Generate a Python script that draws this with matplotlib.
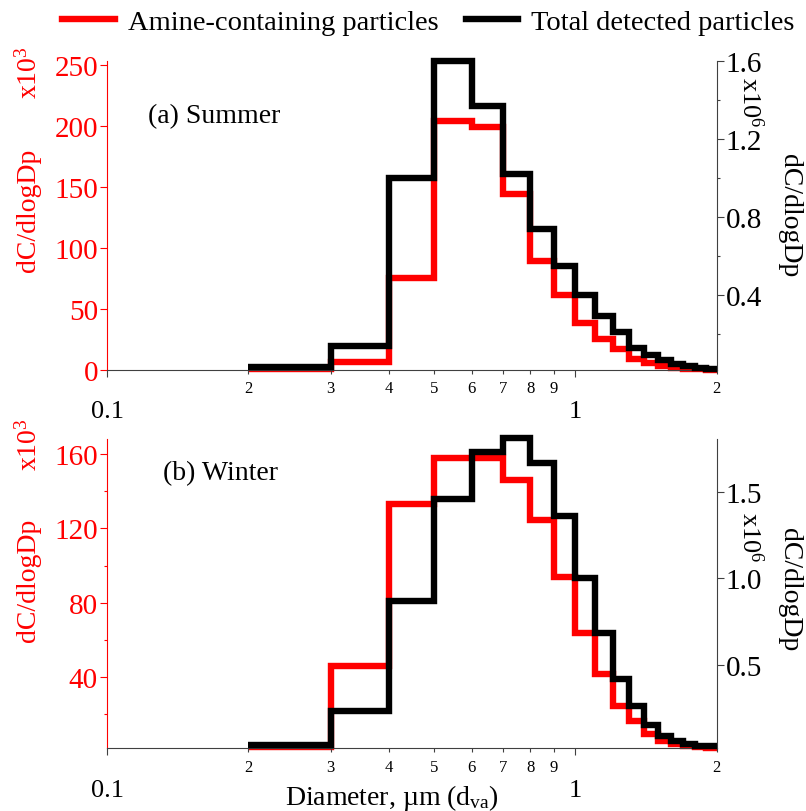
"""
Size distributions of amine-containing vs. total detected particles,
summer and winter, as step histograms on a log diameter axis.
"""
import matplotlib
matplotlib.use('Agg')
import matplotlib.pyplot as plt
from matplotlib.lines import Line2D
from matplotlib.ticker import FixedLocator, FixedFormatter, NullLocator

plt.rcParams['font.family'] = 'Liberation Serif'
plt.rcParams['mathtext.fontset'] = 'custom'
plt.rcParams['mathtext.rm'] = 'Liberation Serif'
plt.rcParams['mathtext.it'] = 'Liberation Serif:italic'
plt.rcParams['mathtext.bf'] = 'Liberation Serif:bold'

# Bin edges (um, vacuum aerodynamic diameter)
bin_edges = [0.2, 0.3, 0.4, 0.5, 0.6, 0.7, 0.8, 0.9, 1.0, 1.1,
             1.2, 1.3, 1.4, 1.5, 1.6, 1.7, 1.8, 1.9, 2.0]

# dC/dlogDp, amine-containing particles (x10^3)
summer_amine = [0.5, 6, 75, 204, 199, 144, 89, 61, 38, 25,
                17, 9, 5.5, 3.3, 1.5, 0.7, 0.3, 0.1]
winter_amine = [2.4, 46, 133, 158, 158, 146, 124.5, 94, 64, 41.5,
                24.7, 16.7, 9.5, 5.9, 4.1, 3.2, 2.5, 2.0]

# dC/dlogDp, total detected particles (x10^6)
summer_total = [0.03, 0.14, 1.00, 1.60, 1.37, 1.02, 0.74, 0.55, 0.40, 0.29,
                0.21, 0.13, 0.092, 0.067, 0.046, 0.034, 0.026, 0.02]
winter_total = [0.04, 0.233, 0.871, 1.458, 1.728, 1.812, 1.664, 1.362, 1.002, 0.687,
                0.42, 0.262, 0.154, 0.092, 0.06, 0.044, 0.035, 0.031]

minor_xticks = [0.2, 0.3, 0.4, 0.5, 0.6, 0.7, 0.8, 0.9, 2.0]
minor_xlabels = ['2', '3', '4', '5', '6', '7', '8', '9', '2']
major_xticks = [0.1, 1.0]
major_xlabels = ['0.1', '1']

RED = '#ff0000'
SPINE = '#404040'
W, H = 806, 812


def px_axes(fig, x0, y0, x1, y1):
    """Add axes from pixel box (top-left origin)."""
    return fig.add_axes([x0 / W, 1 - y1 / H, (x1 - x0) / W, (y1 - y0) / H])


def draw_panel(fig, box, amine, total, left_lim, right_lim,
               left_major, left_minor, right_major, right_minor, right_fmt,
               title, title_xy):
    ax = px_axes(fig, *box)
    ax2 = ax.twinx()

    ax.stairs(amine, bin_edges, baseline=None, color=RED, lw=4.6, clip_on=False)
    ax2.stairs(total, bin_edges, baseline=None, color='black', lw=4.6, clip_on=False)

    ax.set_xscale('log')
    ax.set_xlim(0.1, 2.0)
    ax.set_ylim(*left_lim)
    ax2.set_ylim(*right_lim)

    # x axis: small minor labels, larger decade labels further down
    ax.xaxis.set_major_locator(FixedLocator(major_xticks))
    ax.xaxis.set_major_formatter(FixedFormatter(major_xlabels))
    ax.xaxis.set_minor_locator(FixedLocator(minor_xticks))
    ax.xaxis.set_minor_formatter(FixedFormatter(minor_xlabels))
    ax.tick_params(axis='x', which='major', direction='out', length=5, width=0.8,
                   color=SPINE, labelsize=19, pad=17)
    ax.tick_params(axis='x', which='minor', direction='out', length=3, width=0.8,
                   color=SPINE, labelsize=12, pad=4.5)

    # left axis (amine, red)
    ax.yaxis.set_major_locator(FixedLocator(left_major))
    ax.yaxis.set_minor_locator(FixedLocator(left_minor) if left_minor else NullLocator())
    ax.tick_params(axis='y', which='major', direction='out', length=5, width=0.8,
                   color=RED, labelcolor=RED, labelsize=21, pad=1.5)
    ax.tick_params(axis='y', which='minor', direction='out', length=2.5, width=0.8,
                   color=RED)

    # right axis (total, black)
    ax2.yaxis.set_major_locator(FixedLocator(right_major))
    ax2.yaxis.set_major_formatter(FixedFormatter([right_fmt.format(v) for v in right_major]))
    ax2.yaxis.set_minor_locator(FixedLocator(right_minor) if right_minor else NullLocator())
    ax2.tick_params(axis='y', which='major', direction='out', length=5, width=0.8,
                    color=SPINE, labelcolor='black', labelsize=21, pad=1.5)
    ax2.tick_params(axis='y', which='minor', direction='out', length=2.5, width=0.8,
                    color=SPINE)

    for a in (ax, ax2):
        a.spines['top'].set_visible(False)
        a.patch.set_visible(False)
    ax.spines['left'].set_color(RED)
    ax.spines['left'].set_linewidth(0.8)
    ax.spines['bottom'].set_color(SPINE)
    ax.spines['bottom'].set_linewidth(0.8)
    ax.spines['right'].set_visible(False)
    ax2.spines['left'].set_visible(False)
    ax2.spines['bottom'].set_visible(False)
    ax2.spines['right'].set_color(SPINE)
    ax2.spines['right'].set_linewidth(0.8)

    fig.text(title_xy[0] / W, 1 - title_xy[1] / H, title,
             fontsize=20, ha='left', va='center')
    return ax, ax2


fig = plt.figure(figsize=(W / 100, H / 100), dpi=100)

# (a) Summer
draw_panel(fig, (107, 61.7, 716.5, 370.7), summer_amine, summer_total,
           (0, 253.5), (0.017, 1.6),
           [0, 50, 100, 150, 200, 250], None,
           [0.4, 0.8, 1.2, 1.6], [0.2, 0.6, 1.0, 1.4], '{:.1f}',
           '(a) Summer', (148, 117))

# (b) Winter
draw_panel(fig, (107, 440, 716.5, 749.3), winter_amine, winter_total,
           (1.8, 168), (0.02, 1.805),
           [40, 80, 120, 160], [20, 60, 100, 140],
           [0.5, 1.0, 1.5], None, '{:.1f}',
           '(b) Winter', (163, 474))

# axis labels
for yc, yx in ((210, 73), (580, 445)):
    fig.text(28 / W, 1 - yc / H, 'dC/dlogDp', color=RED, fontsize=20,
             rotation=90, ha='center', va='center')
    fig.text(29 / W, 1 - yx / H, r'x10$^{3}$', color=RED, fontsize=20,
             rotation=90, ha='center', va='center')
for yc, yx in ((216, 102), (590, 537)):
    fig.text(790 / W, 1 - yc / H, 'dC/dlogDp', color='black', fontsize=20,
             rotation=270, ha='center', va='center')
    fig.text(750 / W, 1 - yx / H, r'x10$^{6}$', color='black', fontsize=19,
             rotation=270, ha='center', va='center')

fig.text(391.5 / W, 1 - 805 / H, r'Diameter, µm (d$_{\mathrm{va}}$)',
         fontsize=20, ha='center', va='baseline')

handles = [Line2D([], [], color=RED, lw=4.6),
           Line2D([], [], color='black', lw=4.6)]
fig.legend(handles, ['Amine-containing particles', 'Total detected particles'],
           loc='center', bbox_to_anchor=(428.5 / W, 1 - 23 / H), ncol=2,
           frameon=False, fontsize=20.5, handlelength=1.85, handletextpad=0.45,
           columnspacing=0.95, borderpad=0, borderaxespad=0)

fig.savefig('out.png', dpi=100, facecolor='white')
